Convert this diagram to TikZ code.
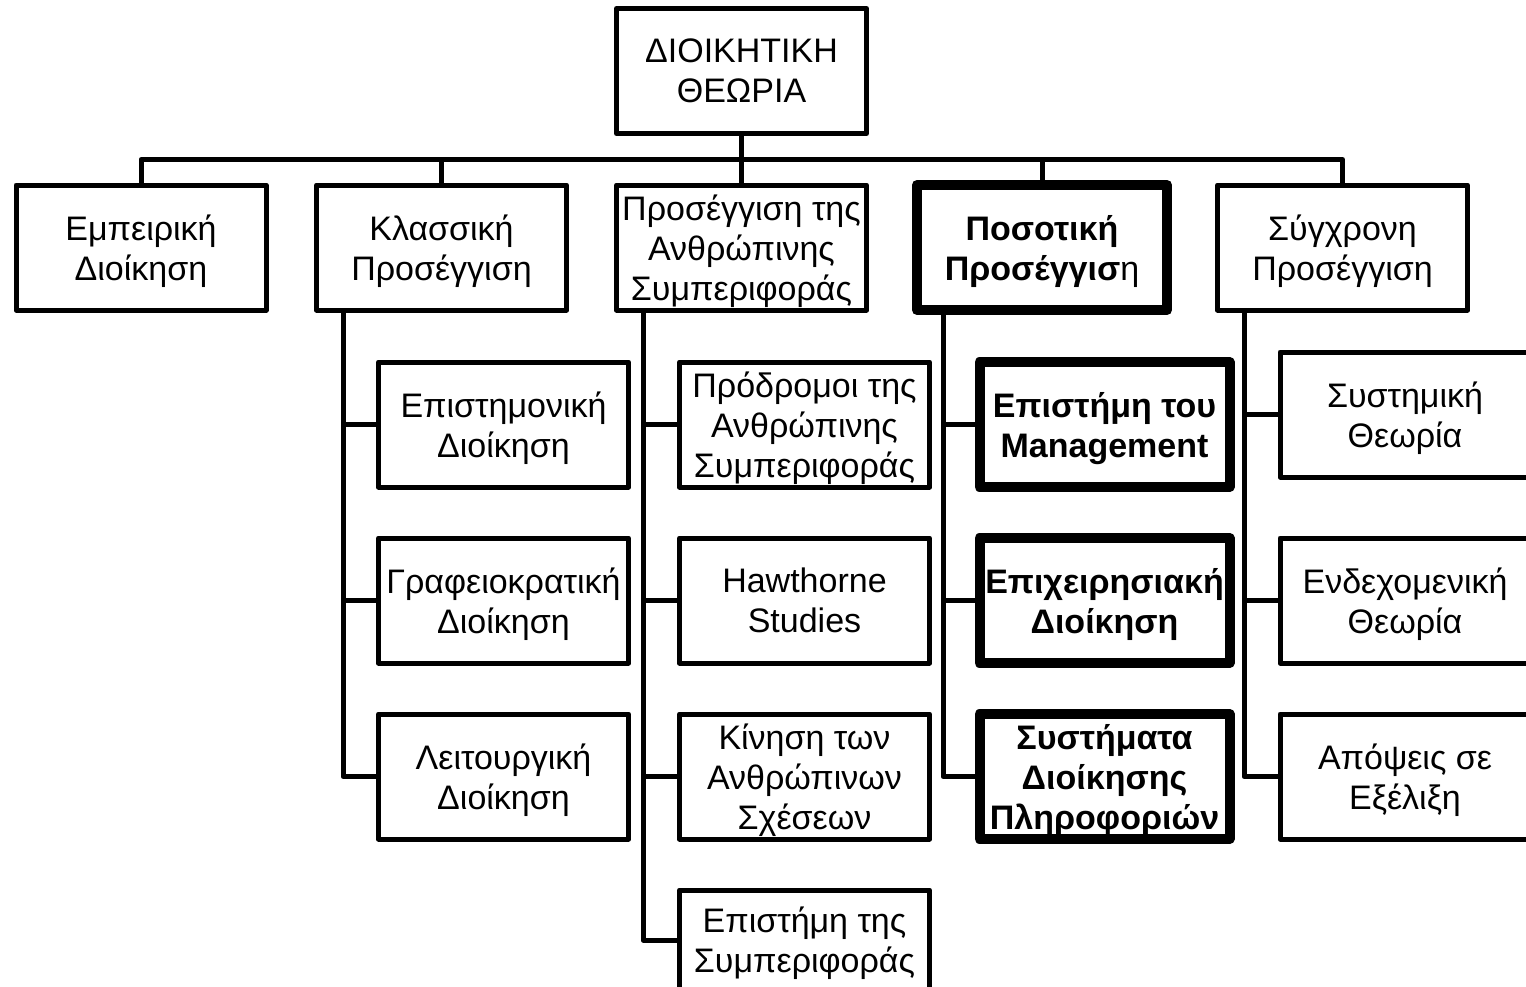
\documentclass[tikz,border=0pt]{standalone}
\usepackage{fontspec}
\setmainfont{Liberation Sans}
\begin{document}
\begin{tikzpicture}[x=1pt,y=-1pt,
  box/.style={draw, line width=5pt, minimum width=250pt, minimum height=125pt, inner sep=0pt, outer sep=0pt, align=center, text depth=-2pt, font=\fontsize{34}{40}\selectfont, line join=round},
  thickbox/.style={box, line width=10pt, font=\fontsize{34}{40}\selectfont\bfseries},
  link/.style={line width=5pt, line join=round}]
\useasboundingbox (0,0) rectangle (1526,986);
\clip (0,0) rectangle (1526,986);
% root
\node[box] (root) at (741.5,71) {ΔΙΟΙΚΗΤΙΚΗ\\ΘΕΩΡΙΑ};
% level 1
\node[box] (e1) at (141,247.5) {Εμπειρική\\Διοίκηση};
\node[box] (e2) at (441.5,247.5) {Κλασσική\\Προσέγγιση};
\node[box] (e3) at (741.5,247.5) {Προσέγγιση της\\Ανθρώπινης\\Συμπεριφοράς};
\node[thickbox] (e4) at (1042,247.5) {Ποσοτική\\Προσέγγισ{\mdseries η}};
\node[box] (e5) at (1342.5,247.5) {Σύγχρονη\\Προσέγγιση};
% column 2
\node[box] (c21) at (503.5,424.5) {Επιστημονική\\Διοίκηση};
\node[box] (c22) at (503.5,600.5) {Γραφειοκρατική\\Διοίκηση};
\node[box] (c23) at (503.5,776.5) {Λειτουργική\\Διοίκηση};
% column 3
\node[box] (c31) at (804.5,424.5) {Πρόδρομοι της\\Ανθρώπινης\\Συμπεριφοράς};
\node[box] (c32) at (804.5,600.5) {Hawthorne\\Studies};
\node[box] (c33) at (804.5,776.5) {Κίνηση των\\Ανθρώπινων\\Σχέσεων};
\node[box, minimum height=100pt] (c34) at (804.5,940) {Επιστήμη της\\Συμπεριφοράς};
% column 4
\node[thickbox] (c41) at (1104.5,424.5) {Επιστήμη του\\Management};
\node[thickbox] (c42) at (1104.5,600.5) {Επιχειρησιακή\\Διοίκηση};
\node[thickbox] (c43) at (1104.5,776.5) {Συστήματα\\Διοίκησης\\Πληροφοριών};
% column 5
\node[box] (c51) at (1405,414.5) {Συστημική\\Θεωρία};
\node[box] (c52) at (1405,600.5) {Ενδεχομενική\\Θεωρία};
\node[box] (c53) at (1405,776.5) {Απόψεις σε\\Εξέλιξη};
% level-1 connectors
\foreach \n in {e1,e2,e3,e4,e5}
  \draw[link] (root.south) -- ++(0,26) -| (\n.north);
% column connectors
\foreach \n in {c21,c22,c23}
  \draw[link] ([xshift=26.5pt]e2.south west) |- (\n.west);
\foreach \n in {c31,c32,c33,c34}
  \draw[link] ([xshift=26.5pt]e3.south west) |- (\n.west);
\foreach \n in {c41,c42,c43}
  \draw[link] ([xshift=26pt]e4.south west) |- (\n.west);
\foreach \n in {c51,c52,c53}
  \draw[link] ([xshift=26.5pt]e5.south west) |- (\n.west);
\end{tikzpicture}
\end{document}
